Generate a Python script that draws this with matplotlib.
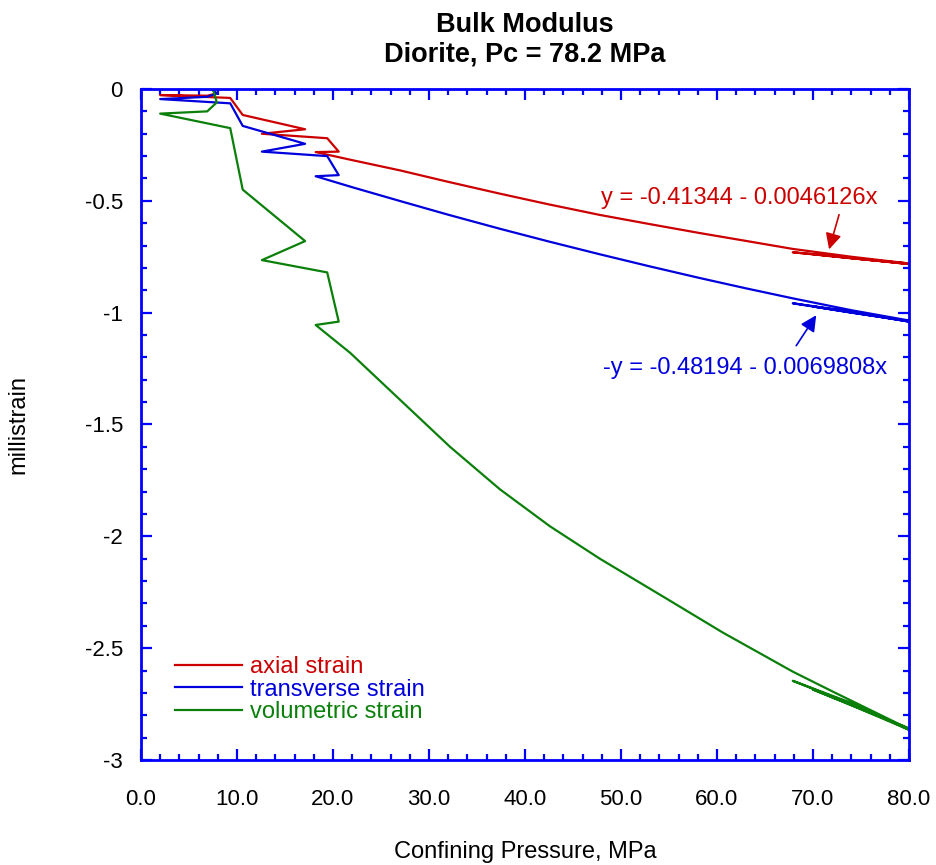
import matplotlib
matplotlib.use("Agg")
import matplotlib.pyplot as plt
from matplotlib.ticker import MultipleLocator, FormatStrFormatter, FuncFormatter

plt.rcParams['font.family'] = ['Liberation Sans', 'DejaVu Sans']
plt.rcParams['axes.unicode_minus'] = False

# Confining pressure (MPa) and strains (millistrain)
axial_p = [7.5, 7.9, 6.9, 2.0, 9.3, 10.6, 17.1, 12.6, 19.4, 20.6, 18.2,
           22.0, 27.0, 32.0, 37.4, 42.5, 47.8, 53.0, 58.2, 63.0, 67.9, 74.0, 80.0,
           74.0, 67.9, 74.0, 80.0, 74.0, 70.0, 76.0, 80.0]
axial_e = [-0.005, -0.02, -0.03, -0.027, -0.04, -0.116, -0.18, -0.20, -0.22, -0.28, -0.282,
           -0.318, -0.364, -0.415, -0.468, -0.516, -0.563, -0.604, -0.644, -0.679, -0.715, -0.75, -0.78,
           -0.757, -0.73, -0.754, -0.783, -0.756, -0.738, -0.765, -0.781]

trans_p = [7.5, 7.9, 6.9, 2.0, 9.3, 10.6, 17.1, 12.6, 19.4, 20.6, 18.2,
           22.0, 27.0, 32.0, 37.4, 42.5, 47.8, 53.0, 58.2, 63.0, 67.9, 74.0, 80.0,
           74.0, 67.9, 74.0, 80.0, 74.0, 70.0, 76.0, 80.0]
trans_e = [-0.005, -0.02, -0.035, -0.045, -0.064, -0.165, -0.245, -0.28, -0.30, -0.385, -0.39,
           -0.439, -0.501, -0.562, -0.625, -0.682, -0.739, -0.793, -0.845, -0.891, -0.936, -0.989, -1.035,
           -1.0, -0.958, -0.995, -1.04, -0.998, -0.972, -1.013, -1.038]

vol_p = [7.5, 7.9, 6.9, 2.0, 9.3, 10.6, 17.1, 12.6, 19.4, 20.6, 18.2,
         21.8, 27.0, 32.2, 37.4, 42.6, 47.8, 54.8, 60.6, 67.9, 72.1, 80.0,
         74.0, 67.9, 74.0, 80.0, 74.0, 70.0, 76.0, 80.0]
vol_e = [0.0, -0.06, -0.10, -0.11, -0.175, -0.45, -0.68, -0.765, -0.82, -1.04, -1.055,
         -1.18, -1.39, -1.60, -1.79, -1.955, -2.10, -2.28, -2.43, -2.605, -2.695, -2.861,
         -2.75, -2.646, -2.745, -2.865, -2.755, -2.685, -2.79, -2.858]

red = '#cc0000'
blue = '#0000dd'
green = '#0a800a'
frame = '#0000ff'

fig = plt.figure(figsize=(9.36, 8.65), dpi=100)
ax = fig.add_axes([0.1506, 0.1214, 0.8205, 0.7757])

ax.plot(axial_p, axial_e, color=red, lw=1.6, label='axial strain')
ax.plot(trans_p, trans_e, color=blue, lw=1.6, label='transverse strain')
ax.plot(vol_p, vol_e, color=green, lw=1.6, label='volumetric strain')

ax.set_xlim(0, 80)
ax.set_ylim(-3, 0)
ax.xaxis.set_major_locator(MultipleLocator(10))
ax.xaxis.set_minor_locator(MultipleLocator(2))
ax.yaxis.set_major_locator(MultipleLocator(0.5))
ax.yaxis.set_minor_locator(MultipleLocator(0.1))
ax.xaxis.set_major_formatter(FormatStrFormatter('%.1f'))
ax.yaxis.set_major_formatter(FuncFormatter(lambda v, _: f'{v:g}' if abs(v) > 1e-9 else '0'))

for s in ax.spines.values():
    s.set_color(frame)
    s.set_linewidth(2.0)
ax.tick_params(which='both', direction='in', top=True, right=True,
               color=frame, labelcolor='black', labelsize=16, width=1.6)
ax.tick_params(which='major', length=8)
ax.tick_params(which='minor', length=4.5)
ax.tick_params(axis='x', pad=21)
ax.tick_params(axis='y', pad=13)

ax.set_title('Bulk Modulus\nDiorite, Pc = 78.2 MPa', fontsize=19.5,
             fontweight='bold', pad=20, linespacing=1.15)
ax.set_xlabel('Confining Pressure, MPa', fontsize=17)
ax.xaxis.set_label_coords(0.5, -0.12)
ax.set_ylabel('millistrain', fontsize=17)
ax.yaxis.set_label_coords(-0.145, 0.5)

# fit annotations
ax.text(62.3, -0.487, 'y = -0.41344 - 0.0046126x', color=red, fontsize=17,
        ha='center', va='center')
ax.annotate('', xy=(71.6, -0.729), xytext=(72.8, -0.55),
            arrowprops=dict(arrowstyle='-|>', color=red, lw=1.2, mutation_scale=24))
ax.text(62.9, -1.247, '-y = -0.48194 - 0.0069808x', color=blue, fontsize=17,
        ha='center', va='center')
ax.annotate('', xy=(70.5, -1.001), xytext=(68.1, -1.158),
            arrowprops=dict(arrowstyle='-|>', color=blue, lw=1.2, mutation_scale=24))

ax.legend(loc='lower left', bbox_to_anchor=(0.044, 0.055), frameon=False,
          fontsize=17, handlelength=2.85, handletextpad=0.35, labelspacing=0.02,
          borderpad=0, borderaxespad=0, labelcolor='linecolor')

fig.savefig('out.png', dpi=100)
